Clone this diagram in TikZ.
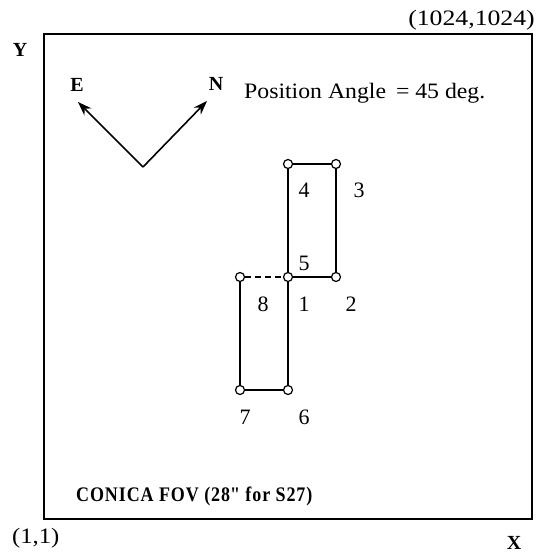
\documentclass[tikz,border=0pt]{standalone}
\usepackage{fontspec}
\setmainfont{Liberation Serif}
\usetikzlibrary{arrows.meta}
\begin{document}
\begin{tikzpicture}[x=1pt,y=-1pt,
  lbl/.style={inner sep=0pt,font=\fontsize{22}{24}\selectfont},
  blbl/.style={inner sep=0pt,font=\fontsize{20}{22}\selectfont\bfseries},
  pt/.style={circle,draw,line width=1.2pt,minimum size=9pt,inner sep=0pt},
  edge/.style={line width=1.6pt},
  arr/.style={line width=1.6pt,-{Stealth[length=14pt,width=10pt]}}]
\useasboundingbox (0,0) rectangle (538,553);
\draw[line width=2pt] (44,34) rectangle (532,519);
% corner labels
\node[lbl,anchor=east] (tr) at (535,20) {\scalebox{1.17}[1]{(1024,1024)}};
\node[lbl,anchor=west] (bl) at (12,538) {\scalebox{1.12}[1]{(1,1)}};
\node[blbl] (Y) at (20,50) {Y};
\node[blbl] (X) at (514,543) {X};
\node[blbl,anchor=west] (fov) at (76,496) {\scalebox{1}[1.15]{\fontsize{18}{20}\selectfont\addfontfeature{LetterSpace=5}CONICA FOV (28\textquotedbl{} for S27)}};
% compass
\coordinate (o) at (143,167);
\coordinate (et) at (78,102);
\coordinate (nt) at (207,101);
\draw[arr] (o) -- (et);
\draw[arr] (o) -- (nt);
\node[blbl] (E) at (77,85) {E};
\node[blbl] (N) at (216,84) {N};
\node[lbl,anchor=west] (pa) at (244,93) {\scalebox{1.08}[1]{Position Angle \,= 45 deg.}};
% dither points
\node[pt] (p4) at (288,164) {};
\node[pt] (p3) at (336,164) {};
\node[pt] (p2) at (336,277) {};
\node[pt] (p1) at (288,277) {};
\node[pt] (p8) at (240,277) {};
\node[pt] (p7) at (240,390) {};
\node[pt] (p6) at (288,390) {};
\draw[edge] (p4) -- (p3) -- (p2) -- (p1) -- (p4);
\draw[edge] (p1) -- (p6) -- (p7) -- (p8);
\draw[line width=1.3pt,dash pattern=on 6pt off 4pt] (p8) -- (p1);
% labels
\node[lbl] (l4) at (304,190) {4};
\node[lbl] (l3) at (359,190) {3};
\node[lbl] (l5) at (304,263) {5};
\node[lbl] (l8) at (263,304) {8};
\node[lbl] (l1) at (304,304) {1};
\node[lbl] (l2) at (351,304) {2};
\node[lbl] (l7) at (245,417) {7};
\node[lbl] (l6) at (304,417) {6};
\end{tikzpicture}
\end{document}
